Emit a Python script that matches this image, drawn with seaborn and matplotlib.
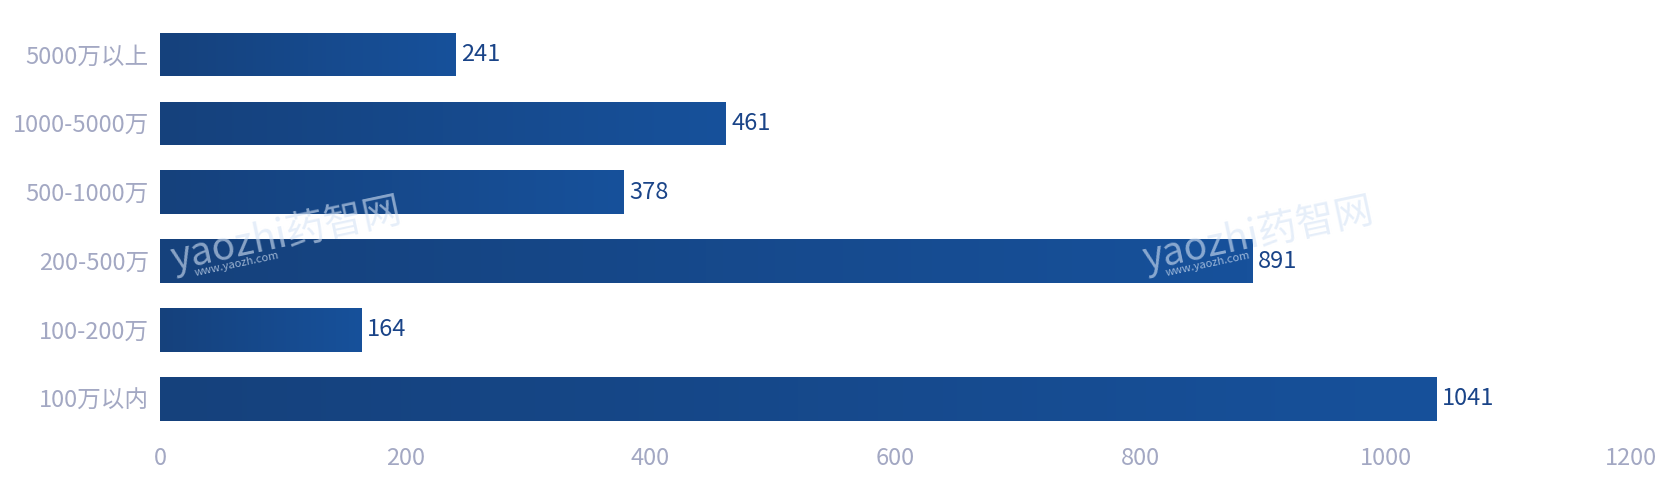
import numpy as np
import pandas as pd
import matplotlib
matplotlib.use('Agg')
import matplotlib.pyplot as plt
import seaborn as sns
from matplotlib.colors import LinearSegmentedColormap

categories = ['5000万以上', '1000-5000万', '500-1000万', '200-500万', '100-200万', '100万以内']
counts = [241, 461, 378, 891, 164, 1041]
x_ticks = [0, 200, 400, 600, 800, 1000, 1200]

sns.set_theme(style='white')
plt.rcParams['font.family'] = ['Noto Sans CJK SC', 'DejaVu Sans']

df = pd.DataFrame({'range': categories, 'count': counts})

fig = plt.figure(figsize=(16.66, 4.98), dpi=100)
ax = fig.add_axes([0.096, 0.130, 0.883, 0.830])

sns.barplot(data=df, y='range', x='count', orient='h', width=0.63,
            color='#164a87', ax=ax)

# градиент слева направо внутри каждого столбца
cmap = LinearSegmentedColormap.from_list('bar', ['#15417c', '#17519b'])
grad = np.linspace(0, 1, 256).reshape(1, -1)
for p in ax.patches:
    x0, y0 = p.get_xy()
    w, h = p.get_width(), p.get_height()
    im = ax.imshow(grad, cmap=cmap, aspect='auto', extent=[x0, x0 + w, y0 + h, y0],
                   zorder=p.get_zorder(), interpolation='bilinear')
    im.set_clip_path(p)
    p.set_facecolor('none')

for i, v in enumerate(counts):
    ax.text(v + 5, i, str(v), ha='left', va='center', fontsize=17, color='#1a4488')

ax.set_xlim(0, 1200)
ax.set_ylim(len(categories) - 0.5, -0.5)
ax.set_xticks(x_ticks)
ax.set_xlabel('')
ax.set_ylabel('')
sns.despine(ax=ax, left=True, bottom=True)
ax.tick_params(axis='both', length=0, labelsize=17, labelcolor='#a3a8c3')
ax.tick_params(axis='y', pad=8)
ax.tick_params(axis='x', pad=10)

# водяной знак
for wx, wy in [(0.172, 0.53), (0.755, 0.53)]:
    fig.text(wx, wy, 'yaozhi药智网', fontsize=28, color='#d6e4f6', alpha=0.6,
             rotation=12, ha='center', va='center', zorder=0)
    fig.text(wx - 0.03, wy - 0.06, 'www.yaozh.com', fontsize=8, color='#d6e4f6',
             alpha=0.7, rotation=12, ha='center', va='center', zorder=0)

fig.savefig('out.png', dpi=100)
